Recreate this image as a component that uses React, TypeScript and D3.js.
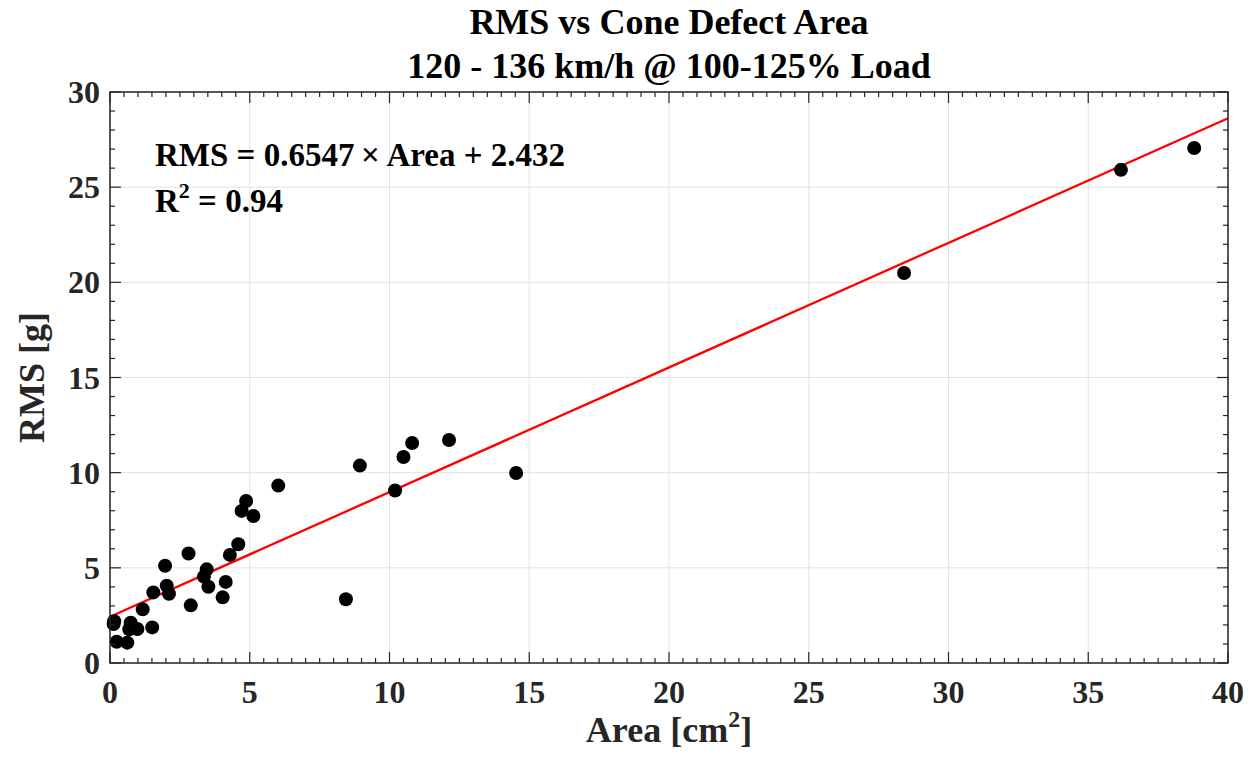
import React from "react";
import * as d3 from "d3";

// Measured cone defect area [cm^2] and vibration RMS [g]
const areaValues: number[] = [
  6.02, 4.87, 4.71, 5.13, 4.59, 4.29, 2.81, 1.97, 3.46, 3.36, 3.52, 4.14,
  4.03, 2.89, 2.03, 2.11, 1.55, 1.17, 1.51, 0.15, 0.13, 0.74, 0.69, 0.98,
  0.24, 0.62, 8.94, 10.2, 8.44, 10.81, 10.5, 12.13, 14.53, 28.41, 36.17, 38.79,
];
const rmsValues: number[] = [
  9.32, 8.51, 7.99, 7.72, 6.24, 5.68, 5.75, 5.11, 4.92, 4.54, 4.01, 4.26,
  3.45, 3.03, 4.06, 3.64, 3.71, 2.82, 1.87, 2.2, 2.05, 2.12, 1.77, 1.79,
  1.12, 1.07, 10.37, 9.06, 3.35, 11.56, 10.82, 11.72, 9.98, 20.49, 25.91, 27.06,
];

// Linear fit RMS = slope * Area + intercept
const fitSlope = 0.6547;
const fitIntercept = 2.432;
const rSquared = "0.94";

const xMajorTicks: number[] = [0, 5, 10, 15, 20, 25, 30, 35, 40];
const yMajorTicks: number[] = [0, 5, 10, 15, 20, 25, 30];

const titleLines: string[] = ["RMS vs Cone Defect Area", "120 - 136 km/h @ 100-125% Load"];

const W = 1257;
const H = 763;
const margin = { left: 110, right: 29, top: 92, bottom: 100 };
const FONT = "'Liberation Serif', 'Times New Roman', serif";
const AXIS_COLOR = "#262626";

export default function App() {
  const x = d3.scaleLinear().domain([0, 40]).range([margin.left, W - margin.right]);
  const y = d3.scaleLinear().domain([0, 30]).range([H - margin.bottom, margin.top]);
  const [x0, x1] = x.range();
  const [y0, y1] = y.range();

  const xMinor = d3.range(0, 40.001, 0.5);
  const yMinor = d3.range(0, 30.001, 1);
  const isMajor = (v: number) => Math.abs(v % 5) < 1e-6;

  const fitLine = d3
    .line<number>()
    .x((d) => x(d))
    .y((d) => y(fitSlope * d + fitIntercept));

  const points = areaValues.map((a, i) => ({ a, r: rmsValues[i] }));
  const cx = (x0 + x1) / 2;
  const cy = (y0 + y1) / 2;

  return (
    <svg
      width={W}
      height={H}
      style={{ position: "absolute", left: 0, top: 0, background: "#fff" }}
      fontFamily={FONT}
    >
      <rect x={0} y={0} width={W} height={H} fill="#fff" />
      {/* grid */}
      {xMajorTicks.map((t) => (
        <line key={"gx" + t} x1={x(t)} x2={x(t)} y1={y0} y2={y1} stroke="#e3e3e3" strokeWidth={1} />
      ))}
      {yMajorTicks.map((t) => (
        <line key={"gy" + t} x1={x0} x2={x1} y1={y(t)} y2={y(t)} stroke="#e3e3e3" strokeWidth={1} />
      ))}

      {/* fit line */}
      <path d={fitLine([0, 40]) || ""} fill="none" stroke="#ff0000" strokeWidth={2.3} />

      {/* data points */}
      {points.map((p, i) => (
        <circle key={i} cx={x(p.a)} cy={y(p.r)} r={7} fill="#000" />
      ))}

      {/* ticks, inward on all four sides */}
      <g stroke={AXIS_COLOR} strokeWidth={1.2}>
        {xMinor.map((v) => {
          const len = isMajor(v) ? 11 : 5;
          return (
            <g key={"tx" + v}>
              <line x1={x(v)} x2={x(v)} y1={y0} y2={y0 - len} />
              <line x1={x(v)} x2={x(v)} y1={y1} y2={y1 + len} />
            </g>
          );
        })}
        {yMinor.map((v) => {
          const len = isMajor(v) ? 11 : 5;
          return (
            <g key={"ty" + v}>
              <line x1={x0} x2={x0 + len} y1={y(v)} y2={y(v)} />
              <line x1={x1} x2={x1 - len} y1={y(v)} y2={y(v)} />
            </g>
          );
        })}
      </g>
      <rect x={x0} y={y1} width={x1 - x0} height={y0 - y1} fill="none" stroke={AXIS_COLOR} strokeWidth={1.5} />

      {/* tick labels */}
      {xMajorTicks.map((t) => (
        <text key={"lx" + t} x={x(t)} y={y0 + 40} textAnchor="middle" fontSize={32} fontWeight="bold" fill={AXIS_COLOR}>
          {t}
        </text>
      ))}
      {yMajorTicks.map((t) => (
        <text key={"ly" + t} x={x0 - 10} y={y(t) + 11} textAnchor="end" fontSize={32} fontWeight="bold" fill={AXIS_COLOR}>
          {t}
        </text>
      ))}

      {/* axis titles */}
      <text x={cx} y={742} textAnchor="middle" fontSize={36} fontWeight="bold" fill={AXIS_COLOR}>
        Area [cm<tspan dy={-15} fontSize={24}>2</tspan>
        <tspan dy={15}>]</tspan>
      </text>
      <text
        transform={`translate(44, ${cy}) rotate(-90)`}
        textAnchor="middle"
        fontSize={36}
        fontWeight="bold"
        fill={AXIS_COLOR}
      >
        RMS [g]
      </text>

      {/* title */}
      {titleLines.map((line, i) => (
        <text key={"t" + i} x={cx} y={34 + i * 44} textAnchor="middle" fontSize={36} fontWeight="bold" fill="#000">
          {line}
        </text>
      ))}

      {/* fit annotation */}
      <text x={155} y={166} fontSize={33} fontWeight="bold" fill="#000">
        {`RMS = ${fitSlope}\u2009×\u2009Area + ${fitIntercept}`}
      </text>
      <text x={155} y={212} fontSize={33} fontWeight="bold" fill="#000">
        R<tspan dy={-14} fontSize={22}>2</tspan>
        <tspan dy={14}>{` = ${rSquared}`}</tspan>
      </text>
    </svg>
  );
}
